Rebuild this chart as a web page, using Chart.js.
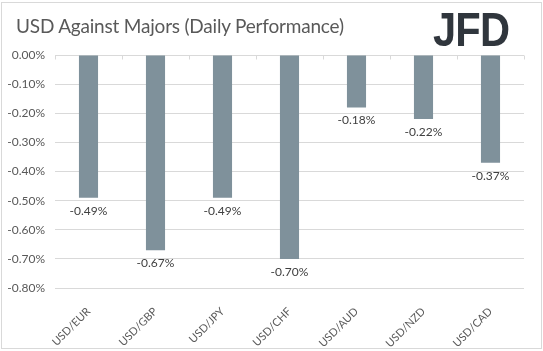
<!DOCTYPE html>
<html>
<head>
<meta charset="utf-8">
<script src="https://cdn.jsdelivr.net/npm/chart.js@4"></script>
<style>
  body { margin: 0; background: #fff; }
  #wrap { position: relative; width: 543px; height: 351px; overflow: hidden; }
  #frame { position: absolute; left: 1px; top: 2px; width: 539px; height: 345px; border: 1px solid #d9d9d9; }
  #title { position: absolute; left: 16px; top: 14px; font: 19px Lato, sans-serif; color: #595959; white-space: nowrap; letter-spacing: -0.2px; }
  #logo { position: absolute; left: 433px; top: 1px; font: bold 49px "Liberation Sans", sans-serif; color: #30363d; letter-spacing: -1px; transform: scaleX(0.85); transform-origin: left top; }
  canvas { position: absolute; left: 0; top: 0; }
</style>
</head>
<body>
<div id="wrap">
  <div id="frame"></div>
  <canvas id="chart" width="543" height="351"></canvas>
  <div id="title">USD Against Majors (Daily Performance)</div>
  <div id="logo">JFD</div>
</div>
<script>
const pairs = ['USD/EUR', 'USD/GBP', 'USD/JPY', 'USD/CHF', 'USD/AUD', 'USD/NZD', 'USD/CAD'];
const changes = [-0.49, -0.67, -0.49, -0.70, -0.18, -0.22, -0.37];
const yTicks = [0, -0.1, -0.2, -0.3, -0.4, -0.5, -0.6, -0.7, -0.8];

const pct = v => Number(v).toFixed(2) + '%';

// value labels under each bar
const valueLabels = {
  id: 'valueLabels',
  afterDatasetsDraw(chart) {
    const ctx = chart.ctx;
    ctx.save();
    ctx.font = '12px Lato, sans-serif';
    ctx.fillStyle = '#404040';
    ctx.textAlign = 'center';
    ctx.textBaseline = 'middle';
    chart.getDatasetMeta(0).data.forEach((bar, i) => {
      ctx.fillText(pct(changes[i]), bar.x, bar.y + 13);
    });
    ctx.restore();
  }
};

// small tick marks on the zero line between categories
const zeroTicks = {
  id: 'zeroTicks',
  afterDraw(chart) {
    const x = chart.scales.x, y = chart.scales.y;
    const half = (x.getPixelForValue(1) - x.getPixelForValue(0)) / 2;
    const y0 = Math.round(y.getPixelForValue(0)) + 0.5;
    const ctx = chart.ctx;
    ctx.save();
    ctx.strokeStyle = '#d9d9d9';
    ctx.lineWidth = 1;
    ctx.beginPath();
    for (let i = 0; i <= pairs.length; i++) {
      const px = Math.round(x.getPixelForValue(i) - half) + 0.5;
      ctx.moveTo(px, y0);
      ctx.lineTo(px, y0 + 4);
    }
    ctx.stroke();
    ctx.restore();
  }
};

new Chart(document.getElementById('chart'), {
  type: 'bar',
  data: {
    labels: pairs,
    datasets: [{
      data: changes,
      backgroundColor: '#7f919b',
      categoryPercentage: 1,
      barPercentage: 0.285
    }]
  },
  options: {
    responsive: false,
    animation: false,
    layout: { padding: { left: 0, right: 19, top: 55, bottom: 0 } },
    plugins: { legend: { display: false }, tooltip: { enabled: false } },
    scales: {
      x: {
        grid: { display: false },
        border: { display: false },
        afterFit(scale) { scale.height = 63; },
        ticks: {
          color: '#595959',
          font: { family: 'Lato', size: 11 },
          minRotation: 45,
          maxRotation: 45,
          padding: 9
        }
      },
      y: {
        min: -0.8,
        max: 0,
        afterFit(scale) { scale.width = 55; },
        afterBuildTicks(scale) { scale.ticks = yTicks.map(v => ({ value: v })); },
        grid: { color: '#d9d9d9', drawTicks: false },
        border: { display: false },
        ticks: {
          color: '#595959',
          font: { family: 'Lato', size: 12 },
          padding: 10,
          callback: v => pct(v)
        }
      }
    }
  },
  plugins: [valueLabels, zeroTicks]
});
</script>
</body>
</html>
